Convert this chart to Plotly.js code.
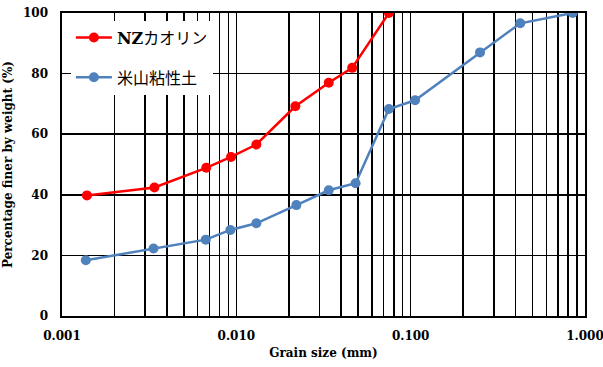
<!DOCTYPE html>
<html><head><meta charset="utf-8">
<script src="https://cdn.plot.ly/plotly-3.0.1.min.js"></script>
<style>html,body{margin:0;padding:0;background:#fff}#chart{width:603px;height:367px}</style>
</head><body><div id="chart"></div>
<script>
const nzSize = [0.00139, 0.00339, 0.00672, 0.00932, 0.01303, 0.0218, 0.0339, 0.0462, 0.075];
const nzFiner = [39.8, 42.4, 48.9, 52.5, 56.6, 69.2, 77.0, 81.9, 100];
const yoneSize = [0.00137, 0.00335, 0.00668, 0.00924, 0.01303, 0.0221, 0.0339, 0.0483, 0.075, 0.106, 0.25, 0.425, 0.85];
const yoneFiner = [18.4, 22.3, 25.2, 28.4, 30.6, 36.6, 41.5, 43.8, 68.3, 71.2, 87.0, 96.6, 100];
const seriesNames = ['NZカオリン', '米山粘性土'];
const xTickLabels = ['0.001', '0.010', '0.100', '1.000'];
const yTickVals = [0, 20, 40, 60, 80, 100];

const decades = [0.001, 0.01, 0.1];
const xGridVals = [];
const xGridText = [];
decades.forEach((d, i) => {
  for (let k = 1; k <= 9; k++) {
    xGridVals.push(+(d * k).toPrecision(3));
    xGridText.push(k === 1 ? xTickLabels[i] : '');
  }
});
xGridVals.push(1.0); xGridText.push(xTickLabels[3]);

const fontFam = '"DejaVu Serif", "Noto Sans CJK JP", serif';
const boldLatin = s => s.replace(/([A-Za-z]+)/g, '<b>$1</b>');
const traces = [
  {x: nzSize, y: nzFiner, name: boldLatin(seriesNames[0]), mode: 'lines+markers', legendgroup: 'a',
   line: {color: '#FF0000', width: 2.5}, marker: {color: '#FF0000', size: 10}},
  {x: yoneSize, y: yoneFiner, name: boldLatin(seriesNames[1]), mode: 'lines+markers', legendgroup: 'b',
   line: {color: '#4F81BD', width: 2.5}, marker: {color: '#4F81BD', size: 10}}
];
const layout = {
  width: 603, height: 367,
  margin: {l: 62, r: 18, t: 13, b: 51},
  paper_bgcolor: '#fff', plot_bgcolor: '#fff',
  font: {family: fontFam, color: '#000', size: 12},
  showlegend: true,
  legend: {x: 0.017, y: 0.975, xanchor: 'left', yanchor: 'top', bgcolor: '#fff',
    font: {family: fontFam, size: 16, color: '#000'}, tracegroupgap: 16,
    traceorder: 'grouped', itemwidth: 36},
  xaxis: {type: 'log', range: [-3, 0], tickmode: 'array', tickvals: xGridVals, ticktext: xGridText,
    showgrid: true, gridcolor: '#000', gridwidth: 1.6, showline: true, linecolor: '#000', linewidth: 1.6,
    mirror: 'all', ticks: '', zeroline: false, ticklabelstandoff: 8, ticklabeloverflow: 'allow',
    tickfont: {family: fontFam, size: 12, weight: 'bold'},
    title: {text: '<b>Grain size (mm)</b>', font: {family: fontFam, size: 12}, standoff: 6}},
  yaxis: {range: [0, 100], tickmode: 'array', tickvals: yTickVals,
    showgrid: true, gridcolor: '#000', gridwidth: 1.6, showline: true, linecolor: '#000', linewidth: 1.6,
    mirror: 'all', ticks: '', zeroline: false, ticklabelstandoff: 10,
    tickfont: {family: fontFam, size: 12, weight: 'bold'},
    title: {text: '<b>Percentage finer by weight (%)</b>', font: {family: fontFam, size: 12}, standoff: 8}}
};
Plotly.newPlot('chart', traces, layout, {displayModeBar: false, staticPlot: true});
</script></body></html>
